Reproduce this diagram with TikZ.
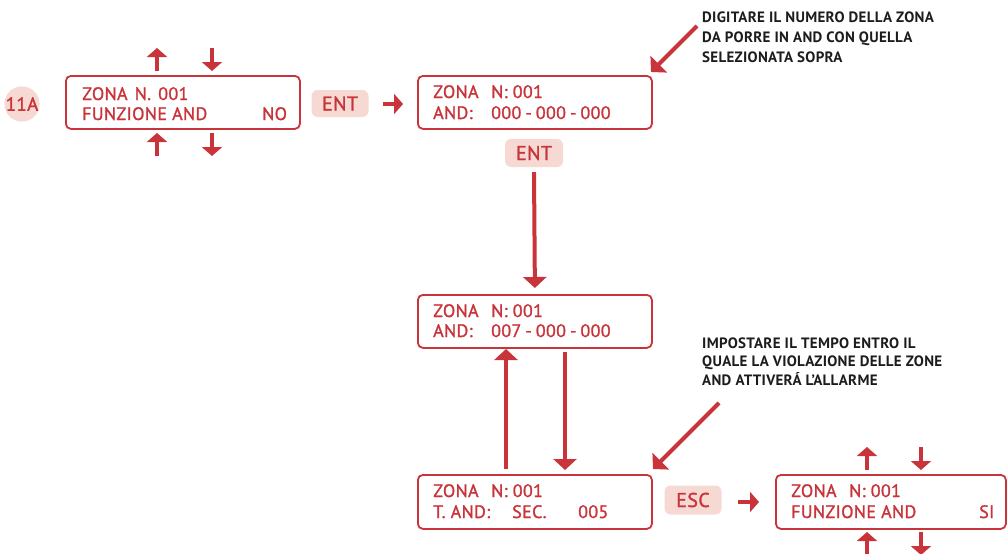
\documentclass[tikz,border=0pt]{standalone}
\usepackage{fontspec}
\setmainfont{PT Sans}[FakeBold=1.2]
\usetikzlibrary{arrows.meta}
\definecolor{rd}{RGB}{200,52,58}
\definecolor{pk}{RGB}{245,217,210}
\definecolor{ink}{RGB}{28,28,28}
\newfontfamily\boxfont{PT Sans}[FakeBold=1.4,LetterSpace=2]
\newfontfamily\notefont{PT Sans Bold}[LetterSpace=2]
\newcommand\dsh{\hspace{4pt}-\hspace{4pt}}
\tikzset{
  lcd/.style={draw=rd, line width=1.8pt, rounded corners=5pt, anchor=north west, inner sep=0pt},
  btn/.style={fill=pk, rounded corners=6pt, text=rd, font=\boxfont\fontsize{20}{20}\selectfont, inner sep=0pt},
  tx/.style={text=rd, font=\boxfont\fontsize{18}{20}\selectfont, anchor=base west, inner sep=0pt},
  note/.style={text=ink, font=\notefont\fontsize{15}{19}\selectfont, anchor=base west, inner sep=0pt},
  big/.style={draw=rd, line width=4pt, -{Triangle[width=23pt,length=11pt]}},
  small/.style={draw=rd, line width=4pt, -{Triangle[width=20pt,length=9pt]}},
}
\begin{document}
\begin{tikzpicture}[x=1pt,y=-1pt]
\useasboundingbox (0,0) rectangle (1007,554);

% step label
\node[circle, fill=pk, minimum size=33pt, inner sep=0pt, text=rd, font=\boxfont\fontsize{19}{20}\selectfont] (c11) at (22,104) {11A};

% LCD boxes
\node[lcd, minimum width=234pt, minimum height=53pt] (b1) at (65,75) {};
\node[lcd, minimum width=234pt, minimum height=53pt] (b2) at (417,75) {};
\node[lcd, minimum width=234pt, minimum height=53pt] (b3) at (417,294) {};
\node[lcd, minimum width=234pt, minimum height=54pt] (b4) at (417,474) {};
\node[lcd, minimum width=230pt, minimum height=54pt] (b5) at (775,474) {};

% box 1 text
\node[tx] (t1a) at (82,100) {ZONA\hspace{2pt} N.\hspace{2pt} 001};
\node[tx] (t1b) at (82,120) {FUNZIONE AND};
\node[tx] (t1c) at (262,120) {NO};
% box 2 text
\node[tx] (t2a) at (433,98) {ZONA};
\node[tx] (t2b) at (491,98) {N: 001};
\node[tx] (t2c) at (433,119) {AND:};
\node[tx] (t2d) at (491,119) {000\dsh 000\dsh 000};
% box 3 text
\node[tx] (t3a) at (433,317) {ZONA};
\node[tx] (t3b) at (491,317) {N: 001};
\node[tx] (t3c) at (433,337) {AND:};
\node[tx] (t3d) at (491,337) {007\dsh 000\dsh 000};
% box 4 text
\node[tx] (t4a) at (433,497) {ZONA};
\node[tx] (t4b) at (491,497) {N: 001};
\node[tx] (t4c) at (433,518) {T. AND:};
\node[tx] (t4d) at (512,518) {SEC.};
\node[tx] (t4e) at (578,518) {005};
% box 5 text
\node[tx] (t5a) at (791,497) {ZONA};
\node[tx] (t5b) at (849,497) {N: 001};
\node[tx] (t5c) at (791,518) {FUNZIONE AND};
\node[tx] (t5d) at (979,518) {SI};

% buttons
\node[btn, minimum width=57pt, minimum height=27pt] (ent1) at (340,103.5) {ENT};
\node[btn, minimum width=58pt, minimum height=28pt] (ent2) at (534,153) {ENT};
\node[btn, minimum width=57pt, minimum height=29pt] (esc) at (693,500) {ESC};

% notes
\node[note] (n1a) at (702,23) {DIGITARE IL NUMERO DELLA ZONA};
\node[note] (n1b) at (702,42) {DA PORRE IN AND CON QUELLA};
\node[note] (n1c) at (702,62) {SELEZIONATA SOPRA};
\node[note] (n2a) at (702,348) {IMPOSTARE IL TEMPO ENTRO IL};
\node[note] (n2b) at (702,366) {QUALE LA VIOLAZIONE DELLE ZONE};
\node[note] (n2c) at (702,385) {AND ATTIVERÁ L’ALLARME};

% coordinates for arrows
\coordinate (u1s) at (157,71); \coordinate (u1e) at (157,48);
\coordinate (d1s) at (212,48); \coordinate (d1e) at (212,71);
\coordinate (u2s) at (157,156); \coordinate (u2e) at (157,133);
\coordinate (d2s) at (212,133); \coordinate (d2e) at (212,156);
\coordinate (u5s) at (867,470); \coordinate (u5e) at (867,447);
\coordinate (d5s) at (921,447); \coordinate (d5e) at (921,470);
\coordinate (u6s) at (867,556); \coordinate (u6e) at (867,532);
\coordinate (d6s) at (921,532); \coordinate (d6e) at (921,555);
\coordinate (r1s) at (383,104); \coordinate (r1e) at (403,104);
\coordinate (r2s) at (738,502); \coordinate (r2e) at (759,502);
\coordinate (a1s) at (697,26); \coordinate (a1e) at (651,72);
\coordinate (a2s) at (719,403); \coordinate (a2e) at (653,469);
\coordinate (upS) at (506,469); \coordinate (upE) at (506,349);
\coordinate (dnS) at (565,352); \coordinate (dnE) at (565,470);

% arrows
\draw[small] (u1s) -- (u1e);
\draw[small] (d1s) -- (d1e);
\draw[small] (u2s) -- (u2e);
\draw[small] (d2s) -- (d2e);
\draw[small] (u5s) -- (u5e);
\draw[small] (d5s) -- (d5e);
\draw[small] (u6s) -- (u6e);
\draw[small] (d6s) -- (d6e);
\draw[small] (r1s) -- (r1e);
\draw[small] (r2s) -- (r2e);
\draw[big] (a1s) -- (a1e);
\draw[big] (a2s) -- (a2e);
\draw[big] ([yshift=-5pt]ent2.south) -- ([yshift=6pt]b3.north);
\draw[big] (upS) -- (upE);
\draw[big] (dnS) -- (dnE);
\end{tikzpicture}
\end{document}
